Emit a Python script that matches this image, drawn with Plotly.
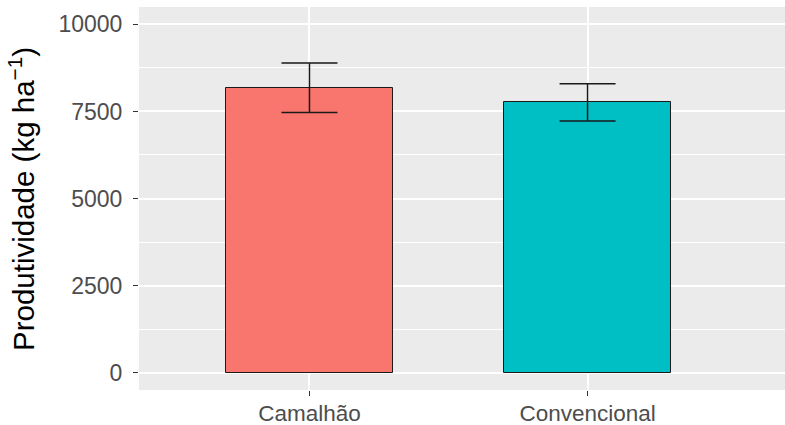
import plotly.graph_objects as go

categories = ["Camalhão", "Convencional"]
means = [8183, 7765]
err_plus = [708, 533]
err_minus = [716, 536]
colors = ["#F8766D", "#00BFC4"]
y_ticks = [0, 2500, 5000, 7500, 10000]
y_title = "Produtividade (kg ha<sup>−1</sup>)"

fig = go.Figure()
fig.add_trace(go.Bar(
    x=[0, 1], y=means, width=0.6,
    marker=dict(color=colors, line=dict(color="#1a1a1a", width=1)),
    error_y=dict(type="data", array=err_plus, arrayminus=err_minus,
                 color="#1a1a1a", thickness=1.5, width=28),
    showlegend=False,
))

fig.update_layout(
    width=785, height=425,
    margin=dict(l=139, r=0, t=7, b=35, autoexpand=False),
    paper_bgcolor="white", plot_bgcolor="#EBEBEB",
    font=dict(family="Liberation Sans, Arial, sans-serif"),
    bargap=0,
)
fig.update_xaxes(
    range=[-0.613, 1.71], tickvals=[0, 1], ticktext=categories,
    showgrid=True, gridcolor="white", gridwidth=1.5, automargin=False,
    ticks="outside", ticklen=5, tickcolor="#333333", tickwidth=1,
    ticklabelstandoff=-2,
    tickfont=dict(size=22.5, color="#4D4D4D"), zeroline=False, showline=False,
)
fig.update_yaxes(
    range=[-500, 10500], tickvals=y_ticks, ticktext=[str(v) for v in y_ticks],
    showgrid=True, gridcolor="white", gridwidth=1.5, automargin=False,
    minor=dict(tickvals=[1250, 3750, 6250, 8750], showgrid=True, gridcolor="white", gridwidth=0.7),
    ticks="outside", ticklen=5, tickcolor="#333333", tickwidth=1,
    ticklabelstandoff=6,
    tickfont=dict(size=23, color="#4D4D4D"), zeroline=False, showline=False,
)
fig.add_annotation(
    text=y_title, textangle=-90, showarrow=False,
    xref="paper", yref="paper", x=(22 - 139) / 646, y=0.4987,
    xanchor="center", yanchor="middle",
    font=dict(size=29.5, color="black"),
)

fig.write_html("out.html", config={"displayModeBar": False},
               post_script="document.body.style.margin='0';")
